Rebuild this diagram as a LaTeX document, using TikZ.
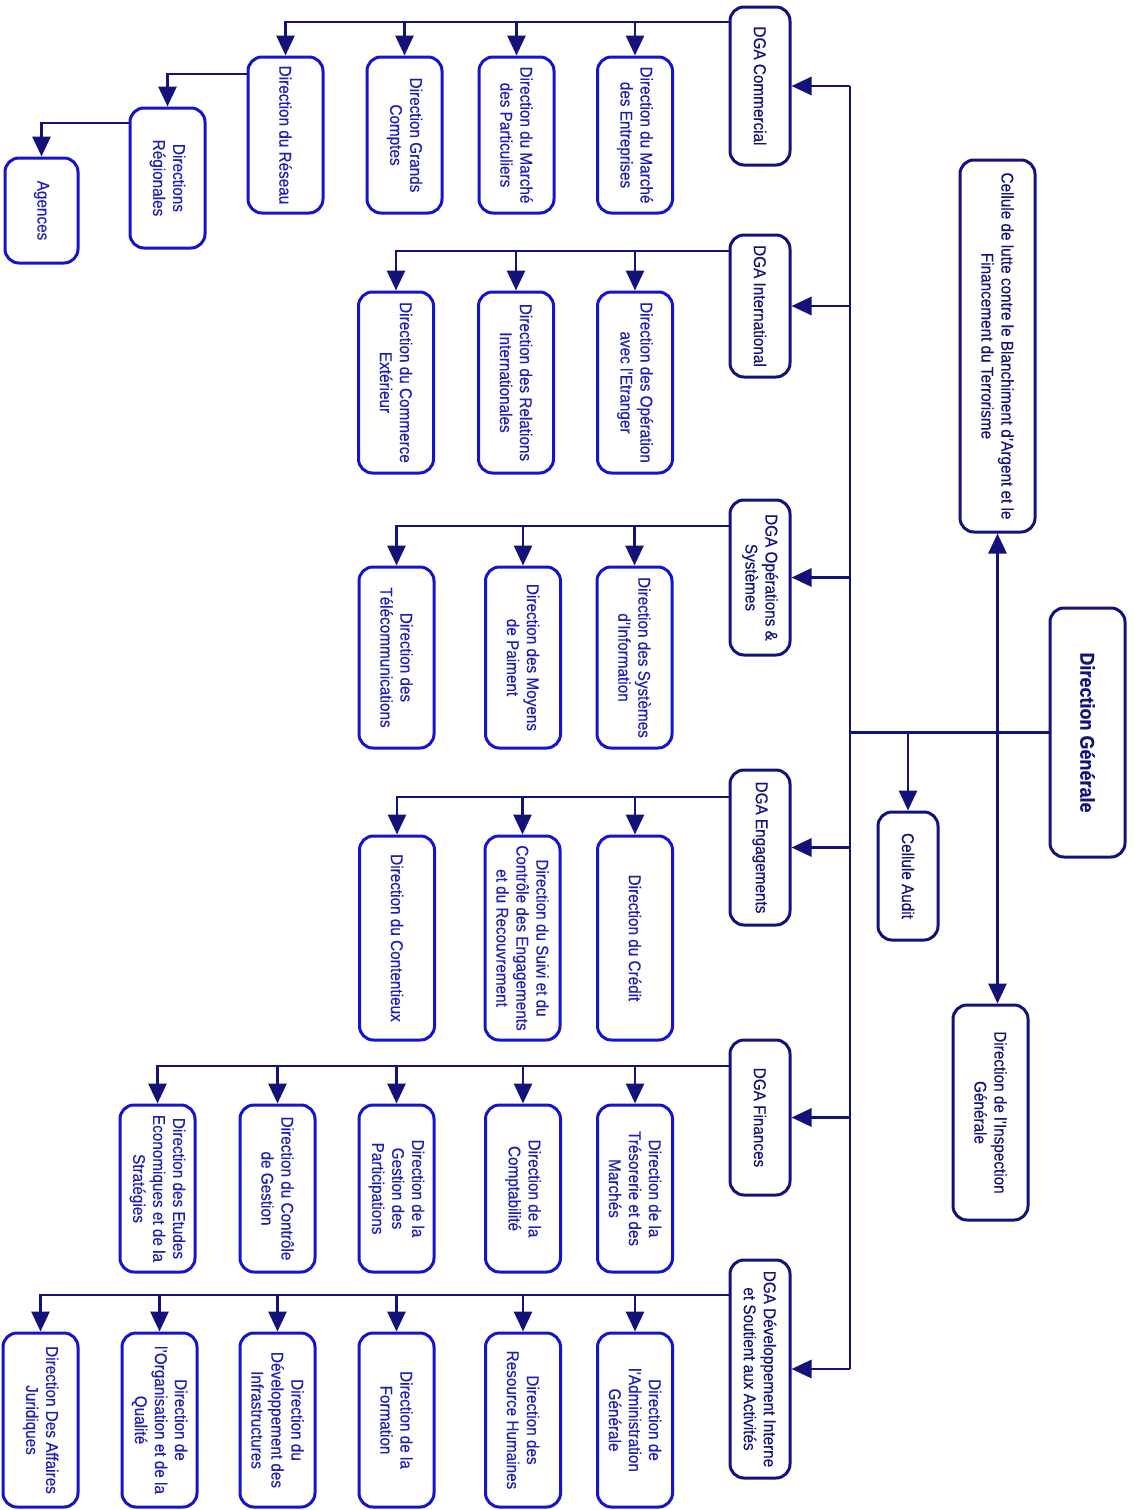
\documentclass[tikz,border=0pt]{standalone}
\usepackage{fontspec}
\setmainfont[FakeStretch=0.9,FakeBold=0.4]{Liberation Sans}
\usetikzlibrary{arrows.meta}
\definecolor{navy}{HTML}{12127A}
\definecolor{bblue}{HTML}{1414CC}
\definecolor{tblue}{HTML}{1E1EB4}
\begin{document}
\begin{tikzpicture}[x=0.5pt,y=-0.5pt,
 every node/.style={font=\fontsize{8.5}{10}\selectfont},
 obox/.style={draw=navy, line width=1.5pt, rounded corners=7pt, rotate=-90, align=center, inner sep=1pt, text=navy},
 cbox/.style={obox, draw=bblue, text=tblue},
 sz/.style 2 args={minimum width=#1*0.5pt, minimum height=#2*0.5pt},
 ln/.style={draw=navy, line width=1.4pt},
 arr/.style={ln, -{Triangle[length=10pt,width=9pt]}},
 arrb/.style={ln, {Triangle[length=10pt,width=9pt]}-{Triangle[length=10pt,width=9pt]}}]
\useasboundingbox (0,0) rectangle (1134,1510);
% top level
\node[obox, sz={249}{75}, font=\fontsize{10}{12}\selectfont\bfseries] (dg) at (1087.5,732.5) {Direction Générale};
\node[obox, sz={372}{75}] (cel) at (997.5,346) {Cellule de lutte contre le Blanchiment d'Argent et le\\Financement du Terrorisme};
\node[obox, sz={215}{75}] (insp) at (990.5,1112.5) {Direction de l'Inspection\\Générale};
\node[obox, sz={128}{60}] (aud) at (908,876) {Cellule Audit};
% DGA
\node[obox, sz={158}{60}] (dgacom) at (760,86) {DGA Commercial};
\node[obox, sz={142}{60}] (dgaint) at (760,306) {DGA International};
\node[obox, sz={155}{60}] (dgaops) at (760,577.5) {DGA Opérations \&\\Systèmes};
\node[obox, sz={155}{60}] (dgaeng) at (760,847.5) {DGA Engagements};
\node[obox, sz={155}{60}] (dgafin) at (760,1117.5) {DGA Finances};
\node[obox, sz={218}{60}] (dgadev) at (760,1369) {DGA Développement Interne\\et Soutient aux Activités};
% Commercial children
\node[cbox, sz={156}{75}] (c1) at (635,135) {Direction du Marché\\des Entreprises};
\node[cbox, sz={156}{75}] (c2) at (516.5,135) {Direction du Marché\\des Particuliers};
\node[cbox, sz={156}{75}] (c3) at (404.5,135) {Direction Grands\\Comptes};
\node[cbox, sz={156}{75}] (c4) at (285.5,135) {Direction du Réseau};
\node[cbox, sz={140}{75}] (reg) at (167.5,178) {Directions\\Régionales};
\node[cbox, sz={105}{73}] (agc) at (41.5,210.5) {Agences};
% International children
\node[cbox, sz={181}{75}] (i1) at (635,382.5) {Direction des Opération\\avec l'Etranger};
\node[cbox, sz={181}{75}] (i2) at (516,382.5) {Direction des Relations\\Internationales};
\node[cbox, sz={181}{75}] (i3) at (396,382.5) {Direction du Commerce\\Extérieur};
% Operations children
\node[cbox, sz={181}{75}] (o1) at (634.5,657.5) {Direction des Systèmes\\d'Information};
\node[cbox, sz={181}{75}] (o2) at (523,657.5) {Direction des Moyens\\de Paiment};
\node[cbox, sz={181}{75}] (o3) at (396.5,657.5) {Direction des\\Télécommunications};
% Engagements children
\node[cbox, sz={204}{75}] (e1) at (635,938) {Direction du Crédit};
\node[cbox, sz={204}{75}] (e2) at (522.5,938) {Direction du Suivi et du\\Contrôle des Engagements\\et du Recouvrement};
\node[cbox, sz={204}{75}] (e3) at (397,938) {Direction du Contentieux};
% Finances children
\node[cbox, sz={167}{75}] (f1) at (635,1188.5) {Direction de la\\Trésorerie et des\\Marchés};
\node[cbox, sz={167}{75}] (f2) at (523,1188.5) {Direction de la\\Comptabilité};
\node[cbox, sz={167}{75}] (f3) at (396.5,1188.5) {Direction de la\\Gestion des\\Participations};
\node[cbox, sz={167}{75}] (f4) at (277.5,1188.5) {Direction du Contrôle\\de Gestion};
\node[cbox, sz={167}{75}] (f5) at (157.5,1188.5) {Direction des Etudes\\Economiques et de la\\Stratégies};
% Developpement children
\node[cbox, sz={174}{75}] (d1) at (635,1420) {Direction de\\l'Administration\\Générale};
\node[cbox, sz={174}{75}] (d2) at (523,1420) {Direction des\\Resource Humaines};
\node[cbox, sz={174}{75}] (d3) at (396.5,1420) {Direction de la\\Formation};
\node[cbox, sz={174}{75}] (d4) at (277.5,1420) {Direction du\\Développement des\\Infrastructures};
\node[cbox, sz={174}{75}] (d5) at (159.5,1420) {Direction de\\l'Organisation et de la\\Qualité};
\node[cbox, sz={174}{75}] (d6) at (40.5,1420) {Direction Des Affaires\\Juridiques};
% trunk
\coordinate (tt) at (850,86);
\coordinate (tb) at (850,1369);
\draw[ln] (tt) -- (tb);
\draw[ln] (dg.south) -- (dg.south -| tt);
\draw[arr] (aud.west |- dg.south) -- (aud.west);
\draw[arrb] (cel.east) -- (cel.east |- insp.west);
\foreach \g in {dgacom,dgaint,dgaops,dgaeng,dgafin,dgadev}
  \draw[arr] (\g.north -| tt) -- (\g.north);
% buses
\coordinate (bcom) at (0,22);
\coordinate (bint) at (0,251);
\coordinate (bops) at (0,526);
\coordinate (beng) at (0,797);
\coordinate (bfin) at (0,1066);
\coordinate (bdev) at (0,1295);
\draw[arr] (dgacom.south |- bcom) -| (c4.west);
\foreach \c in {c1,c2,c3} \draw[arr] (\c.west |- bcom) -- (\c.west);
\coordinate (breg) at (0,74);
\coordinate (bagc) at (0,123);
\draw[arr] (c4.south |- breg) -| (reg.west);
\draw[arr] (reg.south |- bagc) -| (agc.west);
\draw[arr] (dgaint.south |- bint) -| (i3.west);
\foreach \c in {i1,i2} \draw[arr] (\c.west |- bint) -- (\c.west);
\draw[arr] (dgaops.south |- bops) -| (o3.west);
\foreach \c in {o1,o2} \draw[arr] (\c.west |- bops) -- (\c.west);
\draw[arr] (dgaeng.south |- beng) -| (e3.west);
\foreach \c in {e1,e2} \draw[arr] (\c.west |- beng) -- (\c.west);
\draw[arr] (dgafin.south |- bfin) -| (f5.west);
\foreach \c in {f1,f2,f3,f4} \draw[arr] (\c.west |- bfin) -- (\c.west);
\draw[arr] (dgadev.south |- bdev) -| (d6.west);
\foreach \c in {d1,d2,d3,d4,d5} \draw[arr] (\c.west |- bdev) -- (\c.west);
\end{tikzpicture}
\end{document}
